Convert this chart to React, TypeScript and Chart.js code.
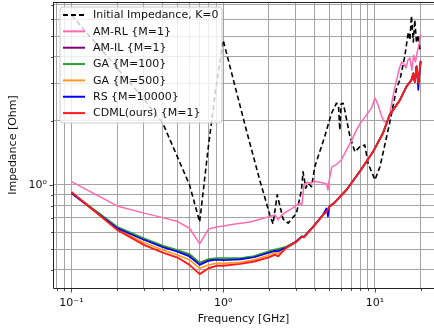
import React, { useEffect, useRef } from 'react';
import { Chart, registerables } from 'chart.js';

Chart.register(...registerables);

// ---------- data ----------
const INIT_FREQ = [0.1, 0.2, 0.3, 0.4, 0.5, 0.6, 0.7, 0.8, 0.9, 1.0, 1.16, 1.42, 1.74, 2.03, 2.13, 2.27, 2.48, 2.68, 3.04, 3.28, 3.36, 3.5, 3.63, 3.82, 4.02, 4.67, 5.17, 5.58, 5.75, 5.87, 5.98, 6.17, 6.32, 6.84, 7.38, 7.95, 8.57, 9.02, 10.0, 10.8, 12.5, 13.9, 14.6, 15.7, 16.6, 17.0, 17.4, 17.9, 18.3, 18.8, 19.3, 19.8];
const INIT_Z = [6.28, 3.54, 2.53, 1.95, 1.35, 1.0, 0.67, 1.53, 2.91, 4.79, 3.17, 1.81, 1.056, 0.723, 0.656, 0.898, 0.692, 0.661, 0.736, 0.947, 1.154, 0.965, 1.018, 0.982, 1.22, 1.69, 2.17, 2.42, 2.37, 1.81, 2.4, 2.42, 2.25, 1.69, 1.43, 1.51, 1.54, 1.26, 1.056, 1.22, 1.95, 2.85, 3.11, 3.99, 5.23, 4.79, 6.22, 4.69, 5.95, 4.64, 5.06, 4.3];

const AMRL_FREQ = [0.1, 0.2, 0.3, 0.4, 0.5, 0.6, 0.7, 0.8, 0.9, 1.0, 1.2, 1.5, 1.8, 2.0, 2.2, 2.3, 2.4, 2.6, 2.8, 3.0, 3.2, 3.3, 3.4, 3.6, 3.8, 4.0, 4.3, 4.6, 4.8, 4.9, 5.0, 5.2, 5.6, 6.0, 6.5, 7.0, 7.5, 8.0, 8.5, 9.0, 9.5, 10, 10.5, 11, 11.5, 12, 12.5, 13, 13.5, 14, 14.5, 15, 15.5, 16, 16.5, 17, 17.5, 18, 18.5, 19, 19.5, 20];
const AMRL_Z = [1.036, 0.797, 0.737, 0.702, 0.673, 0.626, 0.529, 0.62, 0.635, 0.642, 0.656, 0.67, 0.693, 0.71, 0.723, 0.685, 0.715, 0.747, 0.77, 0.797, 0.82, 0.806, 0.99, 1.03, 1.02, 1.04, 1.03, 1.02, 1.01, 0.947, 1.055, 1.215, 1.25, 1.31, 1.46, 1.61, 1.79, 1.95, 2.06, 2.18, 2.3, 2.56, 2.37, 2.13, 1.98, 1.98, 2.13, 2.5, 2.85, 3.18, 3.54, 3.78, 3.7, 3.54, 3.86, 3.95, 3.46, 4.07, 3.78, 4.21, 4.54, 5.11];

const LOW_FREQ = [0.1, 0.2, 0.3, 0.4, 0.5, 0.6, 0.7, 0.8, 0.9, 1.0, 1.3, 1.6, 2.0, 2.2, 2.3, 2.6, 3.0, 3.3, 3.4, 3.9, 4.5, 4.8, 4.9, 5.0, 5.4, 6.5, 8.0, 9.7, 11.3, 12.5, 14.6, 16.1, 17.4, 17.9, 18.3, 18.8, 19.3, 20];
const AMIL_Z = [0.918, 0.632, 0.558, 0.515, 0.491, 0.468, 0.428, 0.445, 0.45, 0.449, 0.451, 0.461, 0.485, 0.495, 0.496, 0.511, 0.54, 0.573, 0.57, 0.635, 0.717, 0.752, 0.764, 0.789, 0.825, 0.948, 1.165, 1.43, 1.75, 2.13, 2.5, 2.89, 3.11, 3.34, 3.05, 3.6, 3.0, 3.8];
const GA100_Z = [0.92, 0.637, 0.562, 0.519, 0.495, 0.474, 0.432, 0.449, 0.454, 0.453, 0.454, 0.464, 0.488, 0.498, 0.501, 0.512, 0.541, 0.574, 0.571, 0.636, 0.717, 0.753, 0.765, 0.79, 0.826, 0.949, 1.166, 1.43, 1.76, 2.14, 2.51, 2.9, 3.12, 3.35, 3.06, 3.6, 3.01, 3.8];
const GA500_Z = [0.92, 0.619, 0.536, 0.495, 0.469, 0.445, 0.406, 0.421, 0.429, 0.428, 0.433, 0.445, 0.467, 0.48, 0.477, 0.508, 0.538, 0.571, 0.568, 0.633, 0.716, 0.752, 0.764, 0.789, 0.824, 0.948, 1.164, 1.43, 1.75, 2.13, 2.5, 2.89, 3.11, 3.34, 3.05, 3.59, 3.0, 3.79];
const RS_Z = [0.912, 0.626, 0.552, 0.51, 0.486, 0.461, 0.421, 0.44, 0.445, 0.443, 0.447, 0.457, 0.48, 0.49, 0.488, 0.509, 0.54, 0.573, 0.57, 0.635, 0.718, 0.777, 0.71, 0.79, 0.825, 0.95, 1.165, 1.43, 1.75, 2.13, 2.5, 2.89, 3.11, 3.34, 3.05, 3.62, 2.79, 3.83];
const CDML_Z = [0.927, 0.615, 0.523, 0.481, 0.456, 0.421, 0.381, 0.406, 0.417, 0.417, 0.426, 0.437, 0.457, 0.47, 0.462, 0.506, 0.537, 0.57, 0.567, 0.632, 0.715, 0.751, 0.763, 0.788, 0.823, 0.947, 1.163, 1.43, 1.75, 2.13, 2.5, 2.89, 3.11, 3.34, 3.05, 3.59, 3.0, 3.79];

const SERIES_NAMES = ['Initial Impedance, K=0', 'AM-RL {M=1}', 'AM-IL {M=1}', 'GA {M=100}', 'GA {M=500}', 'RS {M=10000}', 'CDML(ours) {M=1}'];

const X_GRID = [0.08, 0.09, 0.1, 0.2, 0.3, 0.4, 0.5, 0.6, 0.7, 0.8, 0.9, 1, 2, 3, 4, 5, 6, 7, 8, 9, 10, 20];
const Y_GRID = [0.4, 0.5, 0.6, 0.7, 0.8, 0.9, 1, 2, 3, 4, 5, 6, 7];
const X_LABEL_VALUES = [0.1, 1, 10];
const X_LABEL_TEXT = ['10\u207B\u00B9', '10\u2070', '10\u00B9'];
const Y_LABEL_VALUES = [1];
const Y_LABEL_TEXT = ['10\u2070'];

const X_MIN = 0.0756, X_MAX = 24.5, Y_MIN = 0.328, Y_MAX = 7.23;
const FONT = "'DejaVu Sans', sans-serif";

const pts = (xs: number[], ys: number[]) => xs.map((x, i) => ({ x, y: ys[i] }));
const isDecade = (v: number) => Math.abs(Math.log10(v) - Math.round(Math.log10(v))) < 1e-6;
const lookup = (vals: number[], texts: string[], v: number) => {
  const i = vals.findIndex((a) => Math.abs(a - v) < 1e-9);
  return i >= 0 ? texts[i] : '';
};

const framePlugin = {
  id: 'frameTicks',
  afterDraw(chart: any) {
    const { ctx, chartArea: a, scales } = chart;
    ctx.save();
    ctx.strokeStyle = '#222';
    ctx.lineWidth = 1;
    ctx.setLineDash([]);
    ctx.beginPath();
    ctx.moveTo(a.left + 0.5, a.top + 0.5);
    ctx.lineTo(a.right, a.top + 0.5);
    ctx.moveTo(a.left + 0.5, a.top);
    ctx.lineTo(a.left + 0.5, a.bottom + 0.5);
    ctx.lineTo(a.right, a.bottom + 0.5);
    ctx.stroke();
    ctx.lineWidth = 0.8;
    ctx.beginPath();
    X_GRID.forEach((v) => {
      const px = Math.round(scales.x.getPixelForValue(v)) + 0.5;
      const len = isDecade(v) ? 3.5 : 2;
      ctx.moveTo(px, a.bottom + 1);
      ctx.lineTo(px, a.bottom + 1 + len);
    });
    Y_GRID.forEach((v) => {
      const py = Math.round(scales.y.getPixelForValue(v)) + 0.5;
      const len = isDecade(v) ? 3.5 : 2;
      ctx.moveTo(a.left, py);
      ctx.lineTo(a.left - len, py);
    });
    ctx.stroke();
    ctx.restore();
  },
};

const legendPlugin = {
  id: 'boxLegend',
  afterDatasetsDraw(chart: any) {
    const { ctx, chartArea: a } = chart;
    const x0 = a.left + 7, y0 = a.top + 5, w = 162, h = 116, r = 3;
    ctx.save();
    ctx.beginPath();
    ctx.moveTo(x0 + r, y0);
    ctx.arcTo(x0 + w, y0, x0 + w, y0 + h, r);
    ctx.arcTo(x0 + w, y0 + h, x0, y0 + h, r);
    ctx.arcTo(x0, y0 + h, x0, y0, r);
    ctx.arcTo(x0, y0, x0 + w, y0, r);
    ctx.closePath();
    ctx.fillStyle = 'rgba(255,255,255,0.8)';
    ctx.fill();
    ctx.strokeStyle = '#cccccc';
    ctx.lineWidth = 1;
    ctx.stroke();
    ctx.font = `11px ${FONT}`;
    ctx.textBaseline = 'middle';
    ctx.textAlign = 'left';
    chart.data.datasets.forEach((ds: any, i: number) => {
      const y = y0 + 8 + i * 16.35;
      ctx.beginPath();
      ctx.strokeStyle = ds.borderColor;
      ctx.lineWidth = 2;
      ctx.setLineDash(ds.borderDash || []);
      ctx.moveTo(x0 + 3, y);
      ctx.lineTo(x0 + 25, y);
      ctx.stroke();
      ctx.setLineDash([]);
      ctx.fillStyle = '#111';
      ctx.fillText(ds.label, x0 + 33, y + 0.5);
    });
    ctx.restore();
  },
};

export default function App() {
  const ref = useRef<HTMLCanvasElement>(null);
  useEffect(() => {
    const mk = (i: number, xs: number[], ys: number[], color: string, width: number, dash?: number[]) => ({
      label: SERIES_NAMES[i],
      data: pts(xs, ys),
      borderColor: color,
      backgroundColor: color,
      borderWidth: width,
      borderDash: dash,
      pointRadius: 0,
      tension: 0,
      fill: false,
      borderJoinStyle: 'round',
      order: 10 - i,
    });
    const chart = new Chart(ref.current as HTMLCanvasElement, {
      type: 'line',
      data: {
        datasets: [
          mk(0, INIT_FREQ, INIT_Z, '#000000', 1.6, [5, 3]),
          mk(1, AMRL_FREQ, AMRL_Z, '#ff69b4', 1.5),
          mk(2, LOW_FREQ, AMIL_Z, '#800080', 1.5),
          mk(3, LOW_FREQ, GA100_Z, '#2ca02c', 1.6),
          mk(4, LOW_FREQ, GA500_Z, '#ff9a1a', 1.6),
          mk(5, LOW_FREQ, RS_Z, '#0000ff', 1.6),
          mk(6, LOW_FREQ, CDML_Z, '#ff1a1a', 1.9),
        ] as any,
      },
      options: {
        animation: false,
        responsive: false,
        devicePixelRatio: 1,
        layout: { padding: { top: 2, right: 0, left: 0, bottom: 0 } },
        plugins: { legend: { display: false }, tooltip: { enabled: false } },
        scales: {
          x: {
            type: 'logarithmic',
            bounds: 'data',
            min: X_MIN,
            max: X_MAX,
            afterBuildTicks: (s: any) => { s.ticks = X_GRID.map((v) => ({ value: v })); },
            afterFit: (s: any) => { s.height = 43; s.paddingLeft = 0; s.paddingRight = 0; },
            grid: { color: '#a4a4a4', lineWidth: 1, drawTicks: false },
            border: { display: false },
            ticks: {
              autoSkip: false, maxRotation: 0, minRotation: 0, padding: 9,
              color: '#111', font: { family: FONT, size: 11 },
              callback: (v: any) => lookup(X_LABEL_VALUES, X_LABEL_TEXT, Number(v)),
            },
            title: { display: true, text: 'Frequency [GHz]', color: '#111', font: { family: FONT, size: 11 }, padding: { top: 0, bottom: 5.5 } },
          },
          y: {
            type: 'logarithmic',
            bounds: 'data',
            min: Y_MIN,
            max: Y_MAX,
            afterBuildTicks: (s: any) => { s.ticks = Y_GRID.map((v) => ({ value: v })); },
            afterFit: (s: any) => { s.width = 53; s.paddingTop = 0; s.paddingBottom = 0; },
            grid: { color: '#a4a4a4', lineWidth: 1, drawTicks: false },
            border: { display: false },
            ticks: {
              autoSkip: false, padding: 6,
              color: '#111', font: { family: FONT, size: 11 },
              callback: (v: any) => lookup(Y_LABEL_VALUES, Y_LABEL_TEXT, Number(v)),
            },
            title: { display: true, text: 'Impedance [Ohm]', color: '#111', font: { family: FONT, size: 11 }, padding: { top: 6.4, bottom: 0 } },
          },
        },
      } as any,
      plugins: [legendPlugin, framePlugin],
    });
    return () => chart.destroy();
  }, []);
  return (
    <div style={{ position: 'absolute', left: 0, top: 0, width: 434, height: 331, background: '#fff' }}>
      <canvas ref={ref} width={434} height={331} style={{ display: 'block', width: 434, height: 331 }} />
    </div>
  );
}
